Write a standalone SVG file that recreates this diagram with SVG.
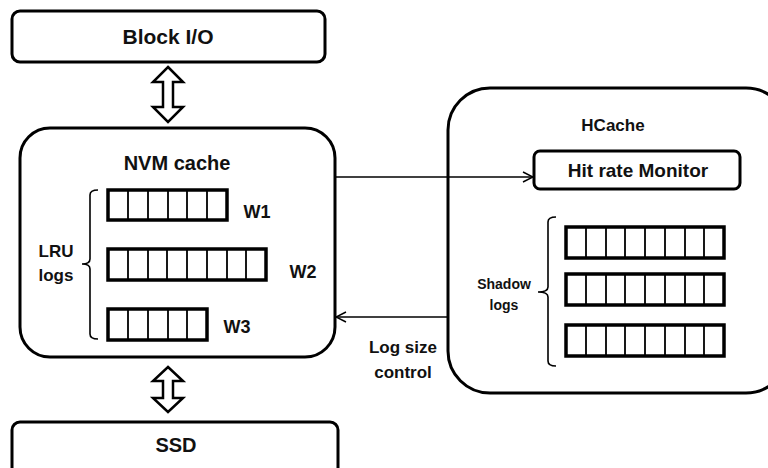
<svg xmlns="http://www.w3.org/2000/svg" width="768" height="468" viewBox="0 0 768 468">
<style>
.box{fill:#fff;stroke:#000;stroke-width:3}
.bar{fill:#fff;stroke:#000;stroke-width:3.5}
.cell{stroke:#000;stroke-width:1.8}
.br{fill:none;stroke:#000;stroke-width:1.6}
.dbl{fill:#fff;stroke:#000;stroke-width:2.5;stroke-linejoin:miter}
.ln{fill:none;stroke:#000;stroke-width:1.5}
text{font-family:"Liberation Sans",Arial,sans-serif;font-weight:bold;fill:#111;text-anchor:middle}
</style>
<defs>
<marker id="chev" viewBox="0 0 12 12" refX="11" refY="6" markerWidth="12" markerHeight="12" markerUnits="userSpaceOnUse" orient="auto">
<path d="M1,1 L11,6 L1,11" fill="none" stroke="#000" stroke-width="1.5"/>
</marker>
</defs>
<rect width="768" height="468" fill="#fff"/>

<g id="blockio">
<rect class="box" x="12" y="11" width="313" height="51" rx="8"/>
<text x="168" y="44" font-size="21">Block I/O</text>
</g>

<g id="ssd">
<rect class="box" x="12" y="422" width="326" height="60" rx="8"/>
<text x="176" y="452" font-size="20">SSD</text>
</g>

<g id="nvm">
<rect class="box" x="20" y="128" width="315" height="229" rx="30"/>
<text x="177" y="170" font-size="20">NVM cache</text>
<g id="w1">
<rect class="bar" x="108" y="190" width="119" height="30"/>
<path class="cell" d="M128,190V220M148,190V220M168,190V220M187,190V220M207,190V220"/>
<text x="257" y="218" font-size="18">W1</text>
</g>
<g id="w2">
<rect class="bar" x="108" y="249" width="158" height="31"/>
<path class="cell" d="M128,249V280M148,249V280M167,249V280M187,249V280M207,249V280M227,249V280M246,249V280"/>
<text x="303" y="278" font-size="18">W2</text>
</g>
<g id="w3">
<rect class="bar" x="108" y="309" width="99" height="31"/>
<path class="cell" d="M128,309V340M148,309V340M168,309V340M187,309V340"/>
<text x="237" y="333" font-size="18">W3</text>
</g>
<path class="br" d="M98,190 Q90,190 90,195 V259 Q90,264 82,264 Q90,264 90,269 V334 Q90,339 98,339"/>
<text x="56" y="257" font-size="17">LRU</text>
<text x="56" y="281" font-size="17">logs</text>
</g>

<g id="hcache">
<rect class="box" x="448" y="88" width="340" height="305" rx="42"/>
<text x="613" y="131" font-size="17">HCache</text>
<g id="monitor">
<rect class="box" x="534" y="151" width="206" height="38" rx="6"/>
<text x="638" y="177" font-size="19">Hit rate Monitor</text>
</g>
<g id="shadow">
<rect class="bar" x="566" y="227" width="158" height="31"/>
<path class="cell" d="M586,227V258M606,227V258M625,227V258M645,227V258M665,227V258M685,227V258M704,227V258"/>
<rect class="bar" x="566" y="274" width="158" height="31"/>
<path class="cell" d="M586,274V305M606,274V305M625,274V305M645,274V305M665,274V305M685,274V305M704,274V305"/>
<rect class="bar" x="566" y="325" width="158" height="31"/>
<path class="cell" d="M586,325V356M606,325V356M625,325V356M645,325V356M665,325V356M685,325V356M704,325V356"/>
<path class="br" d="M556,217 Q548,217 548,222 V287 Q548,292 538,292 Q548,292 548,297 V361 Q548,366 556,366"/>
<text x="504" y="289" font-size="14">Shadow</text>
<text x="504" y="310" font-size="14">logs</text>
</g>
</g>

<g id="connectors">
<path class="dbl" d="M168,67 L183,82 L173,82 L173,107 L183,107 L168,122 L153,107 L163,107 L163,82 L153,82 Z"/>
<path class="dbl" d="M168,367 L183,381 L173,381 L173,398 L183,398 L168,412 L153,398 L163,398 L163,381 L153,381 Z"/>
<line class="ln" x1="336" y1="177" x2="533" y2="177" marker-end="url(#chev)"/>
<line class="ln" x1="448" y1="317" x2="336" y2="317" marker-end="url(#chev)"/>
<text x="403" y="353" font-size="17">Log size</text>
<text x="403" y="378" font-size="17">control</text>
</g>
</svg>
